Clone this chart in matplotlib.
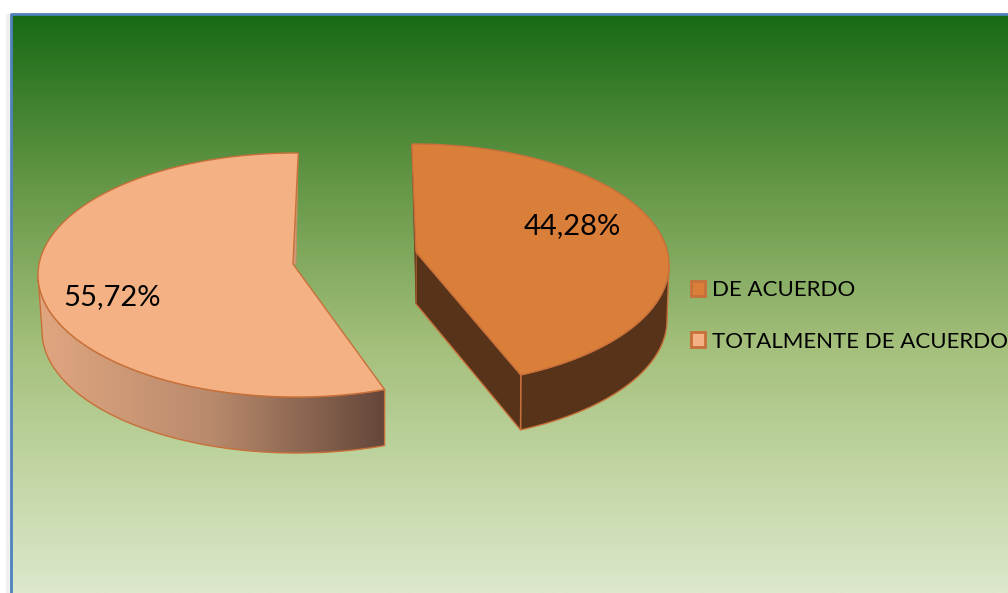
import numpy as np
import matplotlib
matplotlib.use('Agg')
import matplotlib.pyplot as plt
from matplotlib.colors import LinearSegmentedColormap
from matplotlib.patches import Patch, Polygon, Rectangle

plt.rcParams['font.family'] = ['Lato', 'DejaVu Sans']

categories = ['DE ACUERDO', 'TOTALMENTE DE ACUERDO']
shares = [44.28, 55.72]

W, H = 1008, 593
EDGE = '#c8703a'


def rim(c, t):
    # point on the elliptical rim for angle(s) t in degrees
    t = np.radians(t)
    return np.column_stack((c['cx'] + c['rx'] * np.cos(t), c['cy'] - c['ry'] * np.sin(t)))


def low_rim(c, t):
    # rim of the lower face, a bit narrower because of the perspective
    t = np.radians(t)
    return np.column_stack((c['cx'] + 1 + (c['rx'] - 3) * np.cos(t),
                            c['cy'] + c['depth'] - c['ry'] * np.sin(t)))


fig = plt.figure(figsize=(W / 100, H / 100), dpi=100, facecolor='white')
ax = fig.add_axes([0, 0, 1, 1])

# background gradient
bg = LinearSegmentedColormap.from_list('bg', [
    (0.0, '#186a15'), (0.30, '#669848'), (0.58, '#a5c07c'), (0.75, '#bcd29c'), (1.0, '#dde8cc')])
ax.imshow(np.linspace(0, 1, 256).reshape(-1, 1), cmap=bg, aspect='auto',
          extent=[11, W, H, 14], zorder=0)
ax.add_patch(Rectangle((6, 14), 5, H, color='#f0f0f0', lw=0, zorder=0.5))
ax.plot([11, 11, W], [H, 14, 14], color='#4f81bd', lw=2, zorder=1, solid_capstyle='butt')

# right slice (DE ACUERDO), sweep a little shorter because of the perspective
right = dict(cx=414, cy=265, rx=255, ry=121, ax=416, ay=252, depth=55)
t0 = 90.5
t1 = t0 - shares[0] / 100 * 360 * 0.977
arc = np.linspace(t0, t1, 200)
start, end = rim(right, t0)[0], rim(right, t1)[0]
apex = np.array([right['ax'], right['ay']])
low_apex = apex + [0, right['depth'] - 3]

ts = np.linspace(t1, 0, 100)
outer = np.vstack((rim(right, ts), low_rim(right, ts[::-1])))
ax.add_patch(Polygon(outer, fc='#57331a', ec=EDGE, lw=1, zorder=2))
inner = [apex, end, low_rim(right, t1)[0], low_apex]
ax.add_patch(Polygon(inner, fc='#57331a', ec=EDGE, lw=1, zorder=2))
ax.add_patch(Polygon([start, apex, low_apex], fc='#57331a', ec='#7a4a25', lw=0.6, zorder=2))
ax.add_patch(Polygon(np.vstack(([apex], rim(right, arc))), fc='#d97f3a', ec=EDGE, lw=1, zorder=3))

# left slice (TOTALMENTE DE ACUERDO)
left = dict(cx=296, cy=275, rx=258, ry=122, ax=293, ay=264, depth=56)
t0 = 89.5
t1 = t0 + shares[1] / 100 * 360
arc = np.linspace(t0, t1, 300)
start, end = rim(left, t0)[0], rim(left, t1)[0]
apex = np.array([left['ax'], left['ay']])

ts = np.linspace(180, t1, 150)
wall = Polygon(np.vstack((rim(left, ts), low_rim(left, ts[::-1]))), fc='none', ec=EDGE, lw=1, zorder=2.1)
ax.add_patch(wall)
shade = LinearSegmentedColormap.from_list('shade', ['#e0a680', '#b98a6c', '#64463a'])
im = ax.imshow(np.linspace(0, 1, 256).reshape(1, -1), cmap=shade, aspect='auto',
               extent=[38, 386, 470, 270], zorder=2)
im.set_clip_path(wall)
ax.add_patch(Polygon([start, apex, apex + [3, 0]], fc='#cf9a78', ec='#c98a60', lw=0.5, zorder=2))
ax.add_patch(Polygon(np.vstack(([apex], rim(left, arc))), fc='#f4b183', ec=EDGE, lw=1, zorder=3))

# value labels
for x, y, v in zip([572, 112], [226, 297], shares):
    ax.text(x, y, f'{v:.2f}'.replace('.', ',') + '%', fontsize=21, color='black',
            ha='center', va='center', zorder=4)

handles = [Patch(fc='#d97f3a', ec=EDGE, lw=2), Patch(fc='#f4b183', ec=EDGE, lw=2)]
ax.legend(handles, categories, loc='upper left', bbox_to_anchor=(691, 280), bbox_transform=ax.transData,
          frameon=False, fontsize=16, handlelength=0.65, handleheight=0.65, handletextpad=0.3,
          labelspacing=1.42, borderpad=0, borderaxespad=0, labelcolor='black')

ax.set_xlim(0, W)
ax.set_ylim(H, 0)
ax.axis('off')
fig.savefig('out.png', dpi=100, facecolor='white')
